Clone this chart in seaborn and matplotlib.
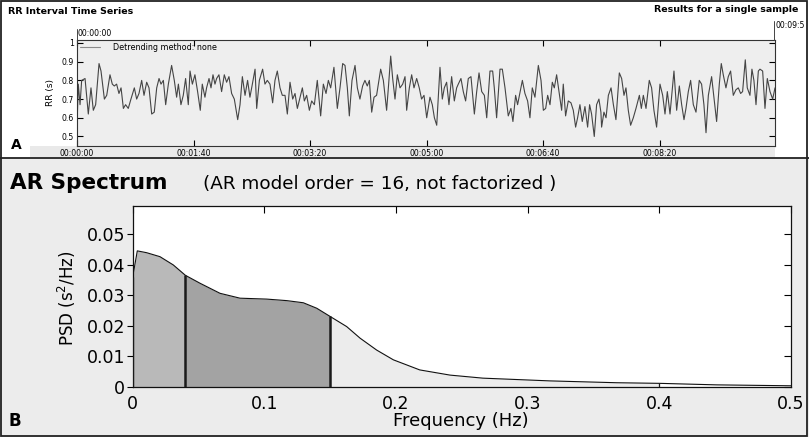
import numpy as np
import pandas as pd
import matplotlib
matplotlib.use("Agg")
import matplotlib.pyplot as plt
import seaborn as sns
from matplotlib.patches import Rectangle
from matplotlib.lines import Line2D

# ---------------- data ----------------
rr_time = [0.0, 1.1, 2.6, 4.0, 6.9, 9.7, 12.0, 14.0, 16.0, 18.9, 20.6, 23.5, 25.5, 28.3, 30.3, 32.0, 34.0,
           36.0, 37.8, 39.8, 41.7, 44.0, 46.3, 49.2, 51.2, 53.2, 55.5, 57.5, 59.8, 61.8, 64.1, 66.3, 68.4,
           70.4, 72.1, 74.1, 76.1, 78.4, 81.2, 83.5, 85.5, 87.0, 89.2, 91.2, 93.2, 95.5, 97.0, 99.0, 101.2,
           103.5, 105.8, 107.5, 109.8, 111.2, 113.3, 115.0, 116.7, 118.4, 119.8, 121.8, 124.1, 126.4, 128.4,
           130.4, 132.7, 135.0, 137.9, 139.9, 141.9, 144.2, 146.4, 148.4,
           149.9, 152.8, 154.2, 156.5, 159.3, 161.3, 163.3, 165.6, 167.9, 169.9, 171.9, 174.2, 176.2, 178.5,
           180.5, 182.8, 185.1, 187.1, 189.1, 191.4, 193.4, 195.1, 197.1, 199.4, 201.4, 203.7, 206.2, 209.1,
           211.4, 213.7, 215.7, 217.7, 220.5, 223.4, 225.7, 228.0, 230.0, 232.0, 233.7, 236.0, 238.6, 240.6,
           242.8, 245.1, 247.1, 249.1, 250.9, 252.9, 254.9, 257.1, 260.6, 262.9, 265.7, 267.2, 269.2, 270.9,
           272.9, 274.9, 277.2, 279.5, 281.5, 282.9, 285.2, 287.2, 289.2, 291.5, 293.7, 295.7, 297.8, 300.1,
           302.9, 304.9, 306.7, 308.7, 311.5, 313.5, 315.2, 317.2, 319.2, 321.5, 323.8, 325.8, 327.2, 329.5,
           331.5, 333.5, 335.8, 338.1, 341.0, 343.0, 345.0, 347.3, 349.6, 351.6, 354.4, 356.7, 358.1, 360.1,
           363.0, 365.0, 367.3, 370.1, 372.4, 374.1, 376.4, 378.1, 382.2, 384.4, 386.7, 388.7, 390.7, 393.0,
           395.9, 398.2, 400.2, 402.2, 403.9, 405.9, 407.9, 409.6, 411.6, 413.6, 415.9, 417.3, 419.3, 421.6,
           423.9, 425.9, 427.9, 429.6, 431.6, 433.6, 435.9, 438.2, 439.9, 441.6, 443.9, 445.9, 447.9, 449.6,
           450.2, 452.2, 454.0, 456.0, 458.3, 460.3, 462.5, 465.4, 467.4, 469.4, 471.1, 473.1, 475.1, 477.4,
           479.7, 482.6, 484.3, 486.0, 488.3, 491.1, 493.1, 495.1, 497.4, 500.3, 502.6, 504.6, 506.6, 508.9,
           512.3, 514.6, 516.9, 518.9, 520.9, 522.6, 524.6, 526.6, 528.9, 531.2, 534.0, 536.0, 538.0, 539.8,
           541.8, 544.6, 546.6, 548.9, 551.2, 552.9, 554.6, 556.9, 558.9, 560.9, 563.2, 565.5, 567.5, 569.5,
           571.2, 573.5, 575.2, 577.5, 579.2, 580.9, 582.7, 584.7, 586.1, 588.4, 590.4, 592.4, 594.7, 597.0,
           599.0]
rr_value = [0.55, 0.78, 0.67, 0.80, 0.81, 0.62, 0.76, 0.64, 0.67, 0.89, 0.85, 0.70, 0.72, 0.83, 0.78, 0.77, 0.78,
            0.73, 0.76, 0.65, 0.67, 0.65, 0.70, 0.76, 0.70, 0.73, 0.80, 0.72, 0.79, 0.76, 0.62, 0.63, 0.76,
            0.81, 0.78, 0.80, 0.67, 0.78, 0.88, 0.80, 0.71, 0.78, 0.67, 0.72, 0.81, 0.67, 0.85, 0.78, 0.83,
            0.74, 0.64, 0.78, 0.71, 0.76, 0.81, 0.76, 0.83, 0.78, 0.81, 0.83, 0.74, 0.83, 0.79,
            0.82, 0.73, 0.70, 0.59, 0.67, 0.82, 0.72, 0.80, 0.71,
            0.76, 0.86, 0.65, 0.80, 0.86, 0.78, 0.80, 0.78, 0.68, 0.80, 0.85, 0.76, 0.72, 0.72,
            0.62, 0.79, 0.70, 0.73, 0.65, 0.71, 0.76, 0.69, 0.72, 0.64, 0.69, 0.67, 0.80, 0.61,
            0.78, 0.73, 0.80, 0.76, 0.87, 0.65, 0.76, 0.89, 0.88, 0.76, 0.61, 0.80, 0.88, 0.76,
            0.70, 0.77, 0.80, 0.77, 0.80, 0.63, 0.71, 0.72, 0.86, 0.80, 0.64, 0.76, 0.93, 0.81,
            0.70, 0.83, 0.76, 0.78, 0.82, 0.64, 0.76, 0.83, 0.76, 0.81, 0.76, 0.70, 0.72, 0.60,
            0.71, 0.67, 0.60, 0.56, 0.87, 0.70, 0.76, 0.79, 0.67, 0.82, 0.69, 0.76, 0.78, 0.81,
            0.74, 0.69, 0.81, 0.82, 0.62, 0.74, 0.84, 0.74, 0.72, 0.60, 0.85, 0.85, 0.76, 0.60,
            0.86, 0.86, 0.76, 0.61, 0.65, 0.58, 0.72, 0.67, 0.80, 0.73, 0.69, 0.60, 0.76, 0.71,
            0.88, 0.80, 0.64, 0.65, 0.72, 0.67, 0.79, 0.76, 0.83, 0.74, 0.64, 0.78, 0.61, 0.69,
            0.68, 0.64, 0.55, 0.60, 0.67, 0.58, 0.66, 0.55, 0.67, 0.62, 0.50, 0.67, 0.70, 0.63,
            0.55, 0.63, 0.60, 0.72, 0.76, 0.67, 0.59, 0.84, 0.81, 0.72, 0.76, 0.64, 0.56, 0.60,
            0.65, 0.72, 0.65, 0.72, 0.65, 0.80, 0.76, 0.64, 0.55, 0.78, 0.72, 0.62, 0.74, 0.62,
            0.85, 0.64, 0.77, 0.67, 0.59, 0.65, 0.74, 0.80, 0.67, 0.63, 0.80, 0.78, 0.67, 0.52,
            0.72, 0.82, 0.71, 0.58, 0.78, 0.89, 0.83, 0.76, 0.82, 0.85, 0.72, 0.75, 0.76, 0.73,
            0.74, 0.91, 0.76, 0.72, 0.86, 0.80, 0.67, 0.85, 0.86, 0.85, 0.65, 0.81, 0.74, 0.70,
            0.76]

rr_xticks = [0, 100, 200, 300, 400, 500]
rr_yticks = [0.5, 0.6, 0.7, 0.8, 0.9, 1.0]
rr_ytick_labels = ["0.5", "0.6", "0.7", "0.8", "0.9", "1"]

freq = [0.0, 0.0035, 0.0106, 0.0207, 0.0308, 0.04, 0.0511, 0.0663, 0.0815, 0.1018, 0.117, 0.1296,
        0.1398, 0.15, 0.1625, 0.1727, 0.1853, 0.198, 0.218, 0.241, 0.266, 0.317, 0.3676, 0.4,
        0.4436, 0.5]
psd = [0.036, 0.0445, 0.0439, 0.0426, 0.0399, 0.0365, 0.0339, 0.0306, 0.0290, 0.0287, 0.0282,
       0.0275, 0.0257, 0.0230, 0.0197, 0.0159, 0.0120, 0.0088, 0.0055, 0.0038, 0.0028, 0.0019,
       0.0013, 0.0011, 0.0006, 0.0003]
band_edges = [0.0, 0.04, 0.15, 0.4]
band_colors = ["#b9b9b9", "#a3a3a3", "#ececec"]
psd_xticks = [0, 0.1, 0.2, 0.3, 0.4, 0.5]
psd_xtick_labels = ["0", "0.1", "0.2", "0.3", "0.4", "0.5"]
psd_yticks = [0, 0.01, 0.02, 0.03, 0.04, 0.05]
psd_ytick_labels = ["0", "0.01", "0.02", "0.03", "0.04", "0.05"]

# ---------------- figure ----------------
sns.set_style("white")
plt.rcParams["font.family"] = ["DejaVu Sans"]
plt.rcParams["text.color"] = "black"
plt.rcParams["axes.labelcolor"] = "black"
plt.rcParams["xtick.color"] = "black"
plt.rcParams["ytick.color"] = "black"

W, H = 809, 437
fig = plt.figure(figsize=(W / 100, H / 100), dpi=100)
fig.patch.set_facecolor("white")


def fx(x):
    return x / W


def fy(y):
    return 1 - y / H


# panel backgrounds
fig.add_artist(Rectangle((0, 0), 1, fy(158), transform=fig.transFigure,
                         facecolor="#ececec", edgecolor="none", zorder=0))
fig.add_artist(Rectangle((fx(30), fy(157)), fx(775) - fx(30), fy(146) - fy(157),
                         transform=fig.transFigure, facecolor="#e9e9e9", edgecolor="none", zorder=0))
fig.add_artist(Line2D([0, 1], [fy(157.5), fy(157.5)], transform=fig.transFigure,
                      color="#222222", lw=1.3))
fig.add_artist(Rectangle((0.001, 0.002), 0.997, 0.996, transform=fig.transFigure,
                         facecolor="none", edgecolor="#222222", lw=1.3, zorder=10))

# ---------------- top panel: RR series ----------------
ax1 = fig.add_axes([fx(77), fy(146), fx(775) - fx(77), fy(40) - fy(146)])
ax1.set_facecolor("#eeeeee")
df_rr = pd.DataFrame({"t": rr_time, "rr": rr_value})
sns.lineplot(data=df_rr, x="t", y="rr", ax=ax1, color="#454545", lw=0.8, estimator=None)
ax1.set_xlim(0, 599)
ax1.set_ylim(0.449, 1.016)
ax1.set_xticks(rr_xticks)
ax1.set_xticklabels([f"{t // 3600:02d}:{(t % 3600) // 60:02d}:{t % 60:02d}" for t in rr_xticks])
ax1.set_yticks(rr_yticks)
ax1.set_yticklabels(rr_ytick_labels)
ax1.tick_params(direction="in", length=4, width=0.8, top=True, right=True, left=True, bottom=True,
                labelsize=5.6, pad=2, colors="black")
ax1.set_xlabel("")
ax1.set_ylabel("")
for s in ax1.spines.values():
    s.set_color("#333333")
    s.set_linewidth(0.8)
leg_handle = Line2D([], [], color="#8a8a8a", lw=0.8)
ax1.legend([leg_handle], ["Detrending method: none"], loc="upper left", frameon=False,
           fontsize=5.8, handlelength=2.5, handletextpad=1.6, borderaxespad=0.1,
           borderpad=0.3, labelcolor="black")

fig.text(fx(50), fy(92), "RR (s)", rotation=90, ha="center", va="center", fontsize=6.5)
fig.text(fx(8), fy(11), "RR Interval Time Series", ha="left", va="center",
         fontsize=6.8, fontweight="bold")
fig.text(fx(798), fy(10), "Results for a single sample", ha="right", va="center",
         fontsize=6.8, fontweight="bold")
fig.text(fx(78), fy(33), "00:00:00", ha="left", va="center", fontsize=5.6)
fig.add_artist(Line2D([fx(77), fx(77)], [fy(40), fy(29)], transform=fig.transFigure,
                      color="#444444", lw=0.7))
fig.text(fx(776), fy(25), "00:09:5", ha="left", va="center", fontsize=5.6)
fig.add_artist(Line2D([fx(774), fx(774)], [fy(40), fy(21)], transform=fig.transFigure,
                      color="#444444", lw=0.7))
fig.text(fx(11), fy(145), "A", ha="left", va="center", fontsize=10, fontweight="bold")

# ---------------- bottom panel: AR spectrum ----------------
ax2 = fig.add_axes([fx(132.7), fy(386.7), fx(791) - fx(132.7), fy(205.7) - fy(386.7)])
ax2.set_facecolor("white")
f_arr = np.array(freq)
p_arr = np.array(psd)
for lo, hi, col in zip(band_edges[:-1], band_edges[1:], band_colors):
    m = (f_arr >= lo) & (f_arr <= hi)
    ax2.fill_between(f_arr[m], 0, p_arr[m], color=col, lw=0, zorder=1)
df_psd = pd.DataFrame({"f": freq, "psd": psd})
sns.lineplot(data=df_psd, x="f", y="psd", ax=ax2, color="#111111", lw=0.8, estimator=None, zorder=3)
for e in band_edges:
    lw = 0.9 if e in (0.0, 0.4) else 1.8
    ax2.vlines(e, 0, np.interp(e, f_arr, p_arr), color="#1a1a1a", lw=lw, zorder=4)
ax2.set_xlim(0, 0.5)
ax2.set_ylim(0, 0.0593)
ax2.set_xticks(psd_xticks)
ax2.set_xticklabels(psd_xtick_labels)
ax2.set_yticks(psd_yticks)
ax2.set_yticklabels(psd_ytick_labels)
ax2.set_xlabel("")
ax2.set_ylabel("")
ax2.tick_params(axis="x", bottom=False, top=True, direction="in", length=5, width=0.8,
                labelsize=12.5, pad=6)
ax2.tick_params(axis="y", left=True, right=False, direction="out", length=4, width=0.8,
                labelsize=12.5, pad=1.5)
sec = ax2.secondary_yaxis("right")
sec.set_yticks(psd_yticks)
sec.tick_params(direction="in", length=5, width=0.8, labelright=False)
sec.spines["right"].set_visible(False)
for s in ax2.spines.values():
    s.set_color("#111111")
    s.set_linewidth(0.9)

fig.text(fx(10), fy(183), "AR Spectrum", ha="left", va="center", fontsize=15.5, fontweight="bold")
fig.text(fx(203), fy(184), "(AR model order = 16, not factorized )", ha="left", va="center",
         fontsize=13.2)
fig.text(fx(67), fy(298), "PSD (s$^2$/Hz)", rotation=90, ha="center", va="center", fontsize=12)
fig.text(fx(461), fy(421), "Frequency (Hz)", ha="center", va="center", fontsize=13)
fig.text(fx(8), fy(421), "B", ha="left", va="center", fontsize=12, fontweight="bold")

fig.savefig("out.png", dpi=100)
